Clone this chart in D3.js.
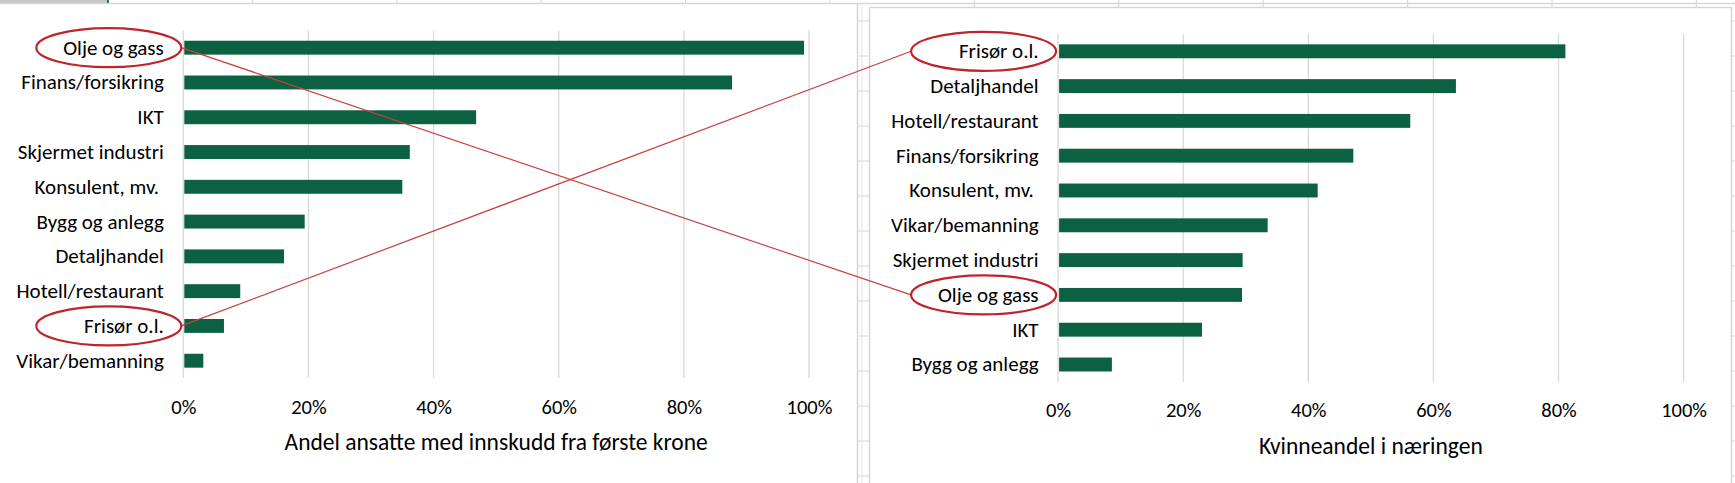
<!DOCTYPE html>
<html>
<head>
<meta charset="utf-8">
<script src="https://cdn.jsdelivr.net/npm/d3@7"></script>
<style>
  body { margin: 0; background: #fff; }
  svg text { font-family: Carlito, Calibri, Lato, sans-serif; fill: #000; white-space: pre; }
</style>
</head>
<body>
<svg id="chart" width="1735" height="483"></svg>
<script>
// left chart: share of employees with pension contribution from the first krone
const leftCats = ["Olje og gass", "Finans/forsikring", "IKT", "Skjermet industri", "Konsulent, mv. ",
  "Bygg og anlegg", "Detaljhandel", "Hotell/restaurant", "Frisør o.l.", "Vikar/bemanning"];
const leftVals = [0.992, 0.877, 0.468, 0.362, 0.350, 0.194, 0.161, 0.091, 0.065, 0.032];

// right chart: share of women in the industry
const rightCats = ["Frisør o.l.", "Detaljhandel", "Hotell/restaurant", "Finans/forsikring", "Konsulent, mv. ",
  "Vikar/bemanning", "Skjermet industri", "Olje og gass", "IKT", "Bygg og anlegg"];
const rightVals = [0.811, 0.636, 0.563, 0.472, 0.415, 0.335, 0.295, 0.294, 0.230, 0.086];

const tickVals = [0, 0.2, 0.4, 0.6, 0.8, 1.0];
const highlighted = ["Olje og gass", "Frisør o.l."];
const leftTitle = "Andel ansatte med innskudd fra første krone";
const rightTitle = "Kvinneandel i næringen";

const barColor = "#0b6141",
      gridColor = "#d9d9d9",
      frameColor = "#d6d6d6",
      ringColor = "#c0242b",
      linkColor = "#c8403f";

const svg = d3.select("#chart");

// spreadsheet backdrop behind the two charts
const sheet = svg.append("g");
sheet.append("rect").attr("x", 0).attr("y", 0).attr("width", 107).attr("height", 3)
  .attr("fill", "#c8c8c8");
sheet.append("line").attr("x1", 108).attr("x2", 108).attr("y1", 0).attr("y2", 4)
  .attr("stroke", "#2f6b4f").attr("stroke-width", 2);
sheet.append("line").attr("x1", 0).attr("x2", 1735).attr("y1", 3.5).attr("y2", 3.5)
  .attr("stroke", frameColor).attr("stroke-width", 1.5);
d3.range(1, 12).forEach(k => {
  const cx = 108 + k * 144.4;
  sheet.append("line").attr("x1", cx).attr("x2", cx).attr("y1", 0).attr("y2", cx > 869 ? 7.5 : 3.5)
    .attr("stroke", frameColor);
});
d3.range(0, 14).forEach(k => {
  const ry = 21 + k * 35;
  sheet.append("line").attr("x1", 858).attr("x2", 869).attr("y1", ry).attr("y2", ry)
    .attr("stroke", frameColor);
  sheet.append("line").attr("x1", 1732).attr("x2", 1735).attr("y1", ry).attr("y2", ry)
    .attr("stroke", frameColor);
});
sheet.append("line").attr("x1", 862).attr("x2", 862).attr("y1", 3.5).attr("y2", 483)
  .attr("stroke", "#e4e4e4");
// chart frames
sheet.append("line").attr("x1", 857.5).attr("x2", 857.5).attr("y1", 3.5).attr("y2", 483)
  .attr("stroke", frameColor).attr("stroke-width", 1.5);
sheet.append("rect").attr("x", 869.5).attr("y", 7.5).attr("width", 862).attr("height", 500)
  .attr("fill", "#fff").attr("stroke", frameColor).attr("stroke-width", 1.5);

function drawPanel(cats, vals, title, box) {
  const x = d3.scaleLinear().domain([0, 1]).range([box.x0, box.x1]);
  const y = d3.scaleBand().domain(cats).range([box.y0, box.y1])
    .paddingInner(0.6).paddingOuter(0.3);
  const g = svg.append("g");

  g.selectAll(".grid")
    .data(tickVals)
    .enter()
    .append("line")
    .attr("class", "grid")
    .attr("x1", d => x(d)).attr("x2", d => x(d))
    .attr("y1", box.y0).attr("y2", box.y1)
    .attr("stroke", gridColor).attr("stroke-width", 1.3);

  g.selectAll(".bar")
    .data(cats)
    .enter()
    .append("rect")
    .attr("class", "bar")
    .attr("x", x(0) + 1)
    .attr("y", d => y(d))
    .attr("width", (d, i) => x(vals[i]) - x(0) - 1)
    .attr("height", y.bandwidth())
    .attr("fill", barColor);

  g.selectAll(".cat")
    .data(cats)
    .enter()
    .append("text")
    .attr("class", "cat")
    .attr("x", x(0) - 19.5)
    .attr("y", d => y(d) + y.bandwidth() / 2)
    .attr("dy", "0.33em")
    .attr("text-anchor", "end")
    .style("font-size", "21px")
    .text(d => d);

  const xAxis = g.append("g")
    .attr("transform", `translate(0,${box.y1})`)
    .call(d3.axisBottom(x).tickValues(tickVals).tickSize(0).tickPadding(21)
      .tickFormat(d3.format(".0%")));
  xAxis.select(".domain").remove();
  xAxis.selectAll("text")
    .style("font-size", "20.5px")
    .style("font-family", "Carlito, Calibri, Lato, sans-serif")
    .attr("fill", "#000");

  g.append("text")
    .attr("x", (box.x0 + box.x1) / 2)
    .attr("y", box.y1 + 72)
    .attr("text-anchor", "middle")
    .style("font-size", "23.5px")
    .text(title);

  return { x, y };
}

const left = drawPanel(leftCats, leftVals, leftTitle, { x0: 183.3, x1: 809, y0: 30.3, y1: 378.1 });
const right = drawPanel(rightCats, rightVals, rightTitle, { x0: 1058.1, x1: 1683.6, y0: 33.9, y1: 381.9 });

// red rings round the highlighted labels and lines joining them
const rx = 72.5, ry = 19.5;
function ringCenter(panel, name) {
  return {
    cx: panel.x(0) - 19.5 - 55,
    cy: panel.y(name) + panel.y.bandwidth() / 2
  };
}
highlighted.forEach(name => {
  const a = ringCenter(left, name), b = ringCenter(right, name);
  svg.append("line")
    .attr("x1", a.cx + rx).attr("y1", a.cy)
    .attr("x2", b.cx - rx).attr("y2", b.cy)
    .attr("stroke", linkColor).attr("stroke-width", 1.2);
  [a, b].forEach(c => {
    svg.append("ellipse")
      .attr("cx", c.cx).attr("cy", c.cy)
      .attr("rx", rx).attr("ry", ry)
      .attr("fill", "none")
      .attr("stroke", ringColor).attr("stroke-width", 2.2);
  });
});
</script>
</body>
</html>
